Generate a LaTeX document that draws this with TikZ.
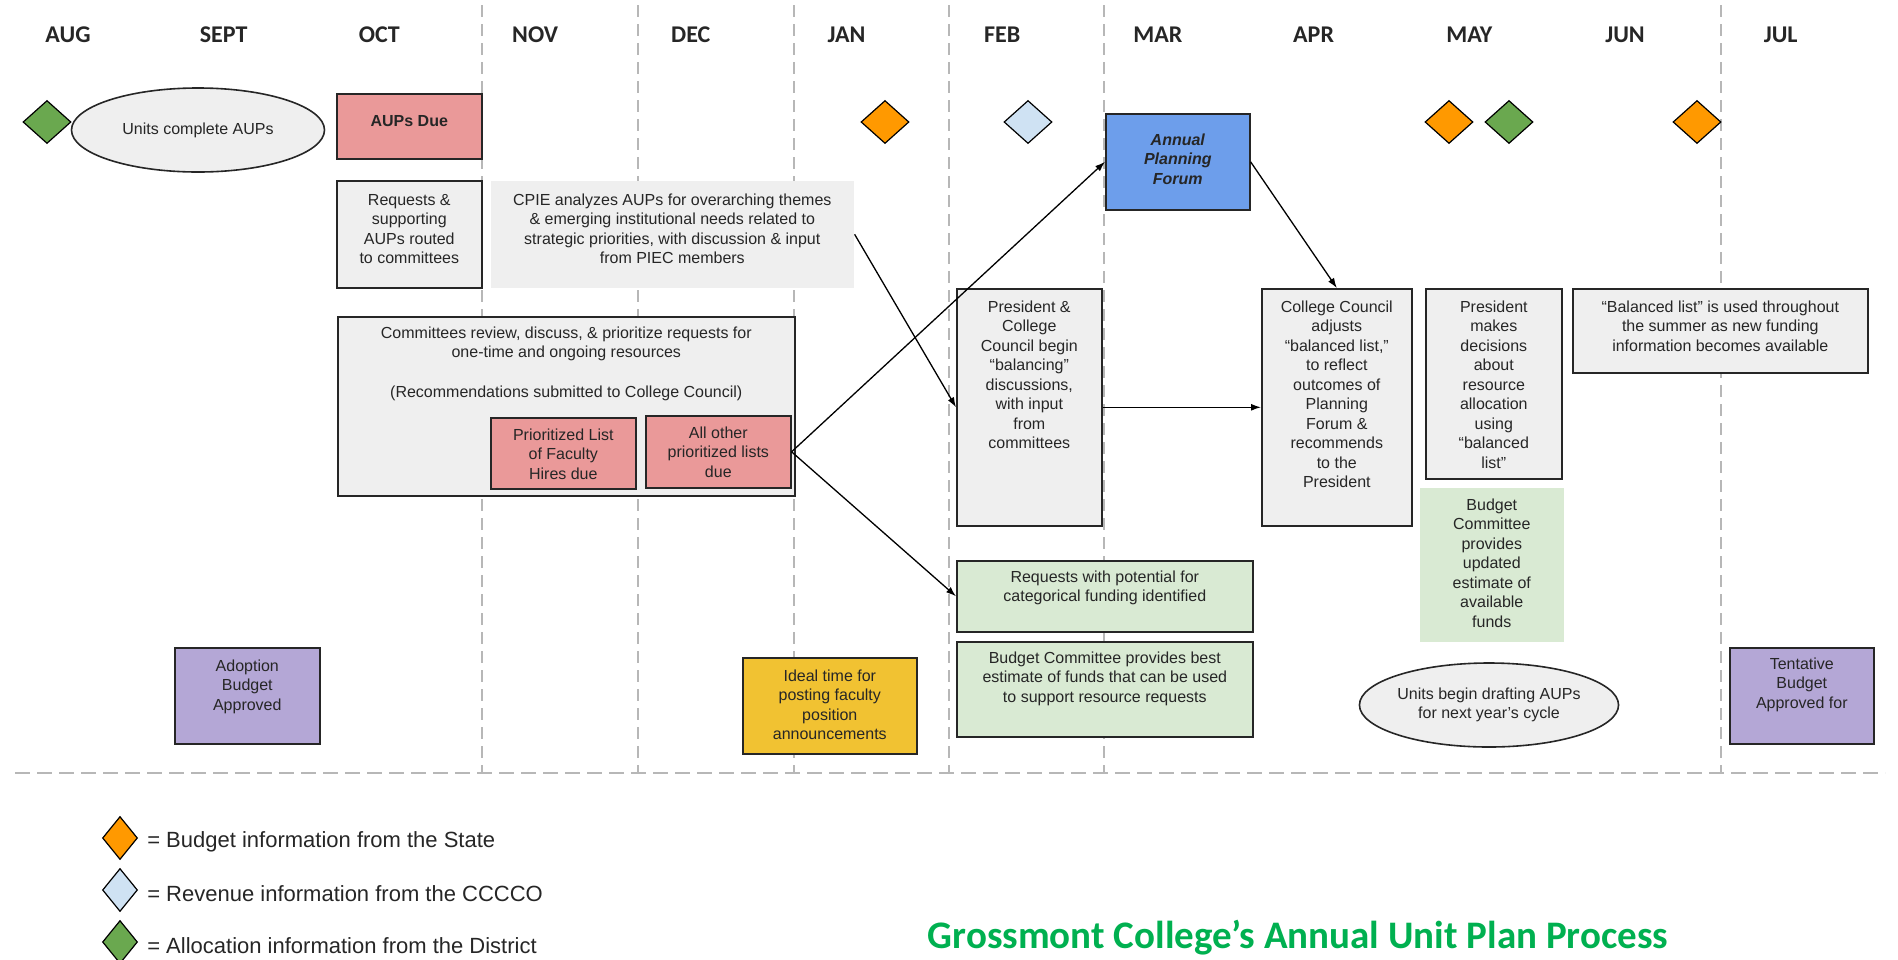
\documentclass[tikz,border=0pt]{standalone}
\usepackage{fontspec}
\setmainfont{Liberation Sans}
\newfontfamily\headfont{Carlito}
\usetikzlibrary{shapes.geometric,arrows.meta}

\definecolor{txt}{HTML}{262626}
\definecolor{grisbox}{HTML}{EFEFEF}
\definecolor{guia}{HTML}{B7B7B7}
\definecolor{naranja}{HTML}{FF9900}
\definecolor{celeste}{HTML}{CFE2F3}
\definecolor{verde}{HTML}{6AA84F}
\definecolor{rosa}{HTML}{EA9999}
\definecolor{azul}{HTML}{6D9EEB}
\definecolor{amarillo}{HTML}{F1C232}
\definecolor{lila}{HTML}{B4A7D6}
\definecolor{verdeclaro}{HTML}{D9EAD3}
\definecolor{titulo}{HTML}{00B050}

% texto arriba dentro de una caja de w x h
\newcommand{\cajatxt}[4][11pt]{\parbox[c][#3][t]{#2}{\centering\vspace*{#1}\strut#4\par}}

\begin{document}
\begin{tikzpicture}[x=1pt,y=-1pt,
    caja/.style={draw=txt,line width=1.6pt,inner sep=0pt,anchor=north west,
      text=txt,font=\fontsize{16}{19.5}\selectfont},
    nota/.style={caja,draw=none},
    elipse/.style={ellipse,draw=txt,line width=1.6pt,fill=grisbox,inner sep=0pt,
      text=txt,align=center,font=\fontsize{16}{19.5}\selectfont},
    rombo/.style={diamond,draw=black,line width=1.2pt,fill=#1,inner sep=0pt,
      minimum width=48pt,minimum height=43pt},
    rombito/.style={rombo=#1,minimum width=35pt,minimum height=43pt},
    mes/.style={font=\headfont\bfseries\fontsize{24}{28}\selectfont,text=txt},
    guiav/.style={guia,line width=1.8pt,dash pattern=on 12pt off 7pt},
    flecha/.style={line width=1.3pt,-{Latex[length=10pt,width=7pt]}}]

    \useasboundingbox (0,0) rectangle (1898,959);

    % Lineas de los meses
    \foreach \x in {482,638,794,949,1104,1721}
        \draw[guiav] (\x,5) -- (\x,773);
    \draw[guiav,dash pattern=on 15pt off 7pt] (15,773) -- (1885,773);

    % Meses
    \foreach \m [count=\i from 0] in {AUG,SEPT,OCT,NOV,DEC,JAN,FEB,MAR,APR,MAY,JUN,JUL}
        \node[mes] (mes\i) at (68+155.7*\i,35) {\m};

    % Rombos
    \node[rombo=verde] (r1) at (47,122) {};
    \node[rombo=naranja] (r2) at (885,122) {};
    \node[rombo=celeste] (r3) at (1028,122) {};
    \node[rombo=naranja] (r4) at (1449,122) {};
    \node[rombo=verde] (r5) at (1509,122) {};
    \node[rombo=naranja] (r6) at (1697,122) {};

    % Elipses
    \node[elipse,minimum width=253pt,minimum height=84pt] (units) at (198,130) {Units complete AUPs};
    \node[elipse,minimum width=245pt,minimum height=84pt] (drafting) at (1489,705)
        {Units begin drafting AUPs\\for next year's cycle};

    % Cajas
    \node[caja,fill=rosa] (aupsdue) at (336,93)
        {\cajatxt[19pt]{145pt}{65pt}{\bfseries AUPs Due}};
    \node[caja,fill=grisbox] (requests) at (336,180)
        {\cajatxt[11pt]{145pt}{107pt}{Requests \&\\supporting\\AUPs routed\\to committees}};
    \node[nota,fill=grisbox] (cpie) at (490,180)
        {\cajatxt[11pt]{363pt}{107pt}{CPIE analyzes AUPs for overarching themes\\\& emerging institutional needs related to\\strategic priorities, with discussion \& input\\from PIEC members}};
    \node[caja,fill=grisbox] (committees) at (337,316)
        {\cajatxt[8pt]{457pt}{179pt}{Committees review, discuss, \& prioritize requests for\\one-time and ongoing resources\\[20pt](Recommendations submitted to College Council)}};
    \node[caja,fill=rosa] (faculty) at (490,417)
        {\cajatxt[9pt]{145pt}{71pt}{Prioritized List\\of Faculty\\Hires due}};
    \node[caja,fill=rosa] (allother) at (645,415)
        {\cajatxt[9pt]{145pt}{72pt}{All other\\prioritized lists\\due}};
    \node[caja,fill=azul] (apf) at (1105,113)
        {\cajatxt[18pt]{144pt}{96pt}{\bfseries\itshape Annual\\Planning\\Forum}};
    \node[caja,fill=grisbox] (pres) at (956,288)
        {\cajatxt[10pt]{145pt}{237pt}{President \&\\College\\Council begin\\``balancing''\\discussions,\\with input\\from\\committees}};
    \node[caja,fill=grisbox] (council) at (1261,288)
        {\cajatxt[10pt]{150pt}{237pt}{College Council\\adjusts\\``balanced list,''\\to reflect\\outcomes of\\Planning\\Forum \&\\recommends\\to the\\President}};
    \node[caja,fill=grisbox] (decide) at (1425,288)
        {\cajatxt[10pt]{136pt}{190pt}{President\\makes\\decisions\\about\\resource\\allocation\\using\\``balanced\\list''}};
    \node[caja,fill=grisbox] (balanced) at (1572,288)
        {\cajatxt[10pt]{295pt}{84pt}{``Balanced list'' is used throughout\\the summer as new funding\\information becomes available}};
    \node[nota,fill=verdeclaro] (bcupdate) at (1419,487)
        {\cajatxt[9pt]{144pt}{154pt}{Budget\\Committee\\provides\\updated\\estimate of\\available\\funds}};
    \node[caja,fill=verdeclaro] (reqpot) at (956,560)
        {\cajatxt[8pt]{296pt}{71pt}{Requests with potential for\\categorical funding identified}};
    \node[caja,fill=verdeclaro] (bcbest) at (956,641)
        {\cajatxt[8pt]{296pt}{95pt}{Budget Committee provides best\\estimate of funds that can be used\\to support resource requests}};
    \node[caja,fill=lila] (adoption) at (174,647)
        {\cajatxt[10pt]{145pt}{96pt}{Adoption\\Budget\\Approved}};
    \node[caja,fill=amarillo] (ideal) at (742,657)
        {\cajatxt[10pt]{174pt}{96pt}{Ideal time for\\posting faculty\\position\\announcements}};
    \node[caja,fill=lila] (tentative) at (1729,647)
        {\cajatxt[8pt]{144pt}{96pt}{Tentative\\Budget\\Approved for}};

    % Flechas
    \draw[flecha] (cpie.east) -- (pres.west);
    \draw[flecha] (allother.east) -- (apf.west);
    \draw[flecha] (allother.east) -- (reqpot.west);
    \draw[flecha] (apf.east) -- (council.north);
    \draw[flecha] (pres.east) -- (council.west);

    % Leyenda
    \node[rombito=naranja] (l1) at (120,838) {};
    \node[rombito=celeste] (l2) at (120,890) {};
    \node[rombito=verde] (l3) at (120,942) {};
    \foreach \n/\t in {l1/Budget information from the State,
                       l2/Revenue information from the CCCCO,
                       l3/Allocation information from the District}
        \node[anchor=west,text=txt,font=\fontsize{22}{24}\selectfont,inner sep=0pt]
            (\n txt) at ([xshift=9pt,yshift=-4pt]\n.east) {= \t};

    % Titulo
    \node[font=\headfont\bfseries\fontsize{39}{44}\selectfont,text=titulo] (titulo)
        at (1298,938) {Grossmont College’s Annual Unit Plan Process};
\end{tikzpicture}
\end{document}
